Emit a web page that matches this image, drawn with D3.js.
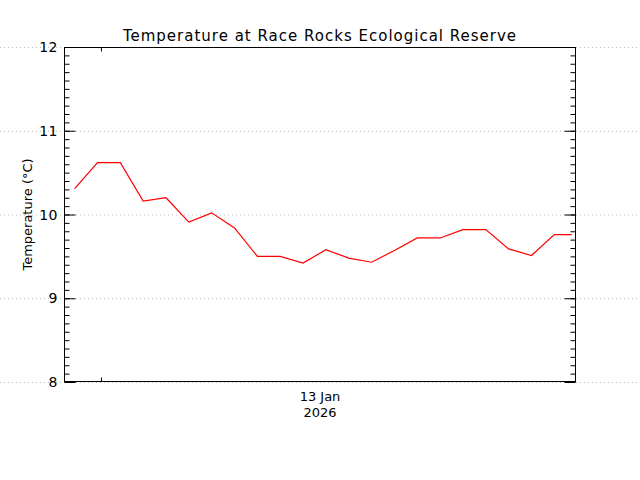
<!DOCTYPE html>
<html>
<head>
<meta charset="utf-8">
<script src="https://cdn.jsdelivr.net/npm/d3@7"></script>
<style>
  body { margin: 0; background: #fff; }
  text { font-family: "DejaVu Sans", sans-serif; fill: #000; }
</style>
</head>
<body>
<div id="chart"></div>
<script>
// hourly readings, last one is a partial hour
const times = [
    "2026-01-12T22:51", "2026-01-12T23:51", "2026-01-13T00:51", "2026-01-13T01:51",
    "2026-01-13T02:51", "2026-01-13T03:51", "2026-01-13T04:51", "2026-01-13T05:51",
    "2026-01-13T06:51", "2026-01-13T07:51", "2026-01-13T08:51", "2026-01-13T09:51",
    "2026-01-13T10:51", "2026-01-13T11:51", "2026-01-13T12:51", "2026-01-13T13:51",
    "2026-01-13T14:51", "2026-01-13T15:51", "2026-01-13T16:51", "2026-01-13T17:51",
    "2026-01-13T18:51", "2026-01-13T19:51", "2026-01-13T20:37"
]
const temps = [
    10.31, 10.62, 10.62, 10.16, 10.20, 9.91, 10.02, 9.84,
    9.50, 9.50, 9.42, 9.58, 9.48, 9.43, 9.57, 9.72,
    9.72, 9.82, 9.82, 9.59, 9.51, 9.76, 9.76
]
const timeRange = ["2026-01-12T22:23", "2026-01-13T20:48"]
const dayTicks = ["2026-01-13T00:00"]
const yTicks = [8, 9, 10, 11, 12]

const parse = d3.timeParse("%Y-%m-%dT%H:%M")
const data = times.map((t, i) => ({ t: parse(t), v: temps[i] }))

const W = 640, H = 480
const margin = { top: 47, right: 64, bottom: 98, left: 64 }
const width = W - margin.left - margin.right
const height = H - margin.top - margin.bottom

const x = d3.scaleTime()
    .domain(timeRange.map(parse))
    .range([0, width])
const y = d3.scaleLinear()
    .domain([8, 12])
    .range([height, 0])

const svg = d3.select("#chart").append("svg")
    .attr("width", W)
    .attr("height", H)

// dotted grid across the full page width
svg.append("g")
    .selectAll("line")
    .data(yTicks)
    .enter()
    .append("line")
    .attr("x1", 0)
    .attr("x2", W)
    .attr("y1", d => margin.top + y(d) + 0.5)
    .attr("y2", d => margin.top + y(d) + 0.5)
    .attr("stroke", "#bbb")
    .attr("stroke-dasharray", "1,3")

const g = svg.append("g")
    .attr("transform", "translate(" + margin.left + "," + margin.top + ")")

const minor = d3.range(8, 12.001, 0.1).map(d => +d.toFixed(1))

// left axis, ticks pointing inward
const leftAxis = g.append("g")
    .attr("transform", "translate(0.5,0)")
    .call(d3.axisRight(y).tickValues(minor).tickSize(5).tickFormat(""))
leftAxis.append("g")
    .call(d3.axisRight(y).tickValues(yTicks).tickSize(11).tickFormat(""))
leftAxis.selectAll("path").remove()

// right axis
const rightAxis = g.append("g")
    .attr("transform", "translate(" + (width - 0.5) + ",0)")
    .call(d3.axisLeft(y).tickValues(minor).tickSize(5).tickFormat(""))
rightAxis.append("g")
    .call(d3.axisLeft(y).tickValues(yTicks).tickSize(11).tickFormat(""))
rightAxis.selectAll("path").remove()

// top and bottom time ticks
const topAxis = g.append("g")
    .attr("transform", "translate(0,0.5)")
    .call(d3.axisBottom(x).tickValues(dayTicks.map(parse)).tickSize(4).tickFormat(""))
const bottomAxis = g.append("g")
    .attr("transform", "translate(0," + (height - 0.5) + ")")
    .call(d3.axisTop(x).tickValues(dayTicks.map(parse)).tickSize(4).tickFormat(""))
topAxis.selectAll("path").remove()
bottomAxis.selectAll("path").remove()

g.selectAll(".tick line").attr("stroke", "#000")

// frame
g.append("rect")
    .attr("x", 0.5)
    .attr("y", 0.5)
    .attr("width", width - 1)
    .attr("height", height - 1)
    .attr("fill", "none")
    .attr("stroke", "#000")

// y labels
g.selectAll(".ylab")
    .data(yTicks)
    .enter()
    .append("text")
    .attr("class", "ylab")
    .attr("x", -6)
    .attr("y", d => y(d) + 5)
    .attr("text-anchor", "end")
    .style("font-size", "14px")
    .style("letter-spacing", "0.5px")
    .text(d => d)

// date label under the axis
g.append("text")
    .attr("x", width / 2)
    .attr("y", height + 19)
    .attr("text-anchor", "middle")
    .style("font-size", "13px")
    .text("13 Jan")
g.append("text")
    .attr("x", width / 2)
    .attr("y", height + 35)
    .attr("text-anchor", "middle")
    .style("font-size", "13px")
    .text("2026")

svg.append("text")
    .attr("x", 320)
    .attr("y", 41)
    .attr("text-anchor", "middle")
    .style("font-size", "15px")
    .style("letter-spacing", "1px")
    .text("Temperature at Race Rocks Ecological Reserve")

svg.append("text")
    .attr("transform", "translate(32," + (margin.top + height / 2) + ") rotate(-90)")
    .attr("text-anchor", "middle")
    .style("font-size", "13px")
    .text("Temperature (°C)")

const line = d3.line()
    .x(d => x(d.t))
    .y(d => y(d.v))

g.append("path")
    .datum(data)
    .attr("fill", "none")
    .attr("stroke", "#f00")
    .attr("stroke-width", 1.2)
    .attr("d", line)
</script>
</body>
</html>
